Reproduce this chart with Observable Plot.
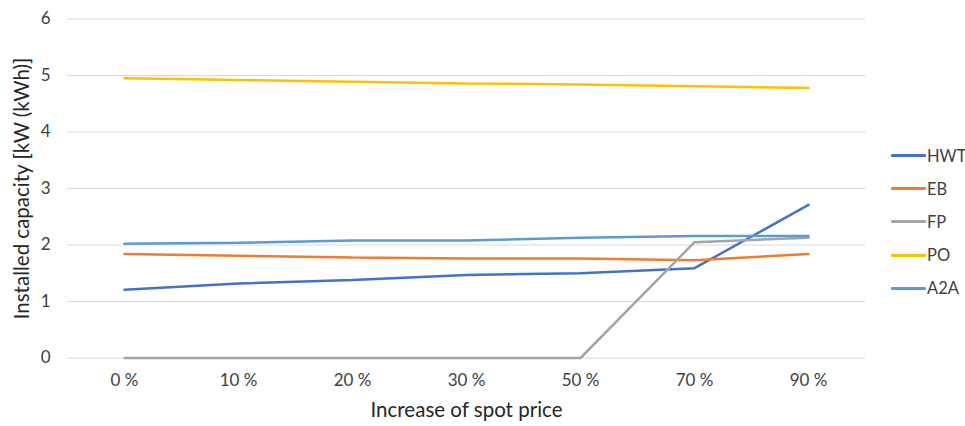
<!DOCTYPE html>
<html>
<head>
<meta charset="utf-8">
<script src="https://cdn.jsdelivr.net/npm/d3@7"></script>
<script src="https://cdn.jsdelivr.net/npm/@observablehq/plot@0.6"></script>
<style>
  html, body { margin: 0; padding: 0; background: #fff; }
  #wrap { position: relative; width: 965px; height: 426px; font-family: Lato, "Open Sans", sans-serif; }
  #legend { position: absolute; left: 891px; top: 139px; white-space: nowrap; }
  .item { display: flex; align-items: center; height: 33.2px; font-size: 16.5px; color: #404040; white-space: nowrap; }
  .sw { width: 35px; height: 3px; margin-right: 1px; border-radius: 1px; flex: none; }
</style>
</head>
<body>
<div id="wrap"></div>
<script>
const categories = ["0 %", "10 %", "20 %", "30 %", "50 %", "70 %", "90 %"];
const seriesNames = ["HWT", "EB", "FP", "PO", "A2A"];
const seriesColors = ["#4472C4", "#ED7D31", "#A5A5A5", "#FFC000", "#5B9BD5"];
const HWT = [1.21, 1.32, 1.38, 1.47, 1.50, 1.59, 2.71];
const EB  = [1.84, 1.81, 1.78, 1.76, 1.76, 1.73, 1.84];
const FP  = [0, 0, 0, 0, 0, 2.05, 2.13];
const PO  = [4.95, 4.92, 4.89, 4.86, 4.84, 4.81, 4.78];
const A2A = [2.02, 2.04, 2.08, 2.08, 2.13, 2.16, 2.16];
const yTicks = [0, 1, 2, 3, 4, 5, 6];
const yTitle = "Installed capacity [kW (kWh)]";
const xTitle = "Increase of spot price";

const seriesValues = [HWT, EB, FP, PO, A2A];
const data = [];
seriesNames.forEach((s, i) => categories.forEach((c, j) => data.push({series: s, cat: c, value: seriesValues[i][j]})));

const chart = Plot.plot({
  width: 965,
  height: 426,
  marginLeft: 67,
  marginRight: 100,
  marginTop: 18.5,
  marginBottom: 68.5,
  style: {fontFamily: "Lato, 'Open Sans', sans-serif", fontSize: "17px", color: "#595959", background: "#fff"},
  x: {type: "point", domain: categories, padding: 0.5},
  y: {domain: [0, 6]},
  color: {domain: seriesNames, range: seriesColors},
  marks: [
    Plot.gridY(yTicks, {stroke: "#d9d9d9", strokeOpacity: 1, strokeWidth: 1}),
    Plot.axisY(yTicks, {tickSize: 0, tickPadding: 17, tickFormat: d3.format("d"), label: null, fontSize: 17, fill: "#404040"}),
    Plot.axisX({tickSize: 0, tickPadding: 16, label: null, fontSize: 17, fill: "#404040"}),
    Plot.text([yTitle], {frameAnchor: "left", textAnchor: "middle", rotate: -90, dx: -45, fontSize: 20.5, fill: "#262626"}),
    Plot.text([xTitle], {frameAnchor: "bottom", textAnchor: "middle", dy: 59, fontSize: 20.5, fill: "#262626"}),
    Plot.line(data, {x: "cat", y: "value", z: "series", stroke: "series", strokeWidth: 2.5, strokeLinecap: "round", strokeLinejoin: "miter"})
  ]
});
document.getElementById("wrap").appendChild(chart);

const legend = document.createElement("div");
legend.id = "legend";
seriesNames.forEach((s, i) => {
  const item = document.createElement("div");
  item.className = "item";
  const sw = document.createElement("div");
  sw.className = "sw";
  sw.style.background = seriesColors[i];
  const t = document.createElement("span");
  t.textContent = s;
  item.appendChild(sw); item.appendChild(t);
  legend.appendChild(item);
});
document.getElementById("wrap").appendChild(legend);
</script>
</body>
</html>
